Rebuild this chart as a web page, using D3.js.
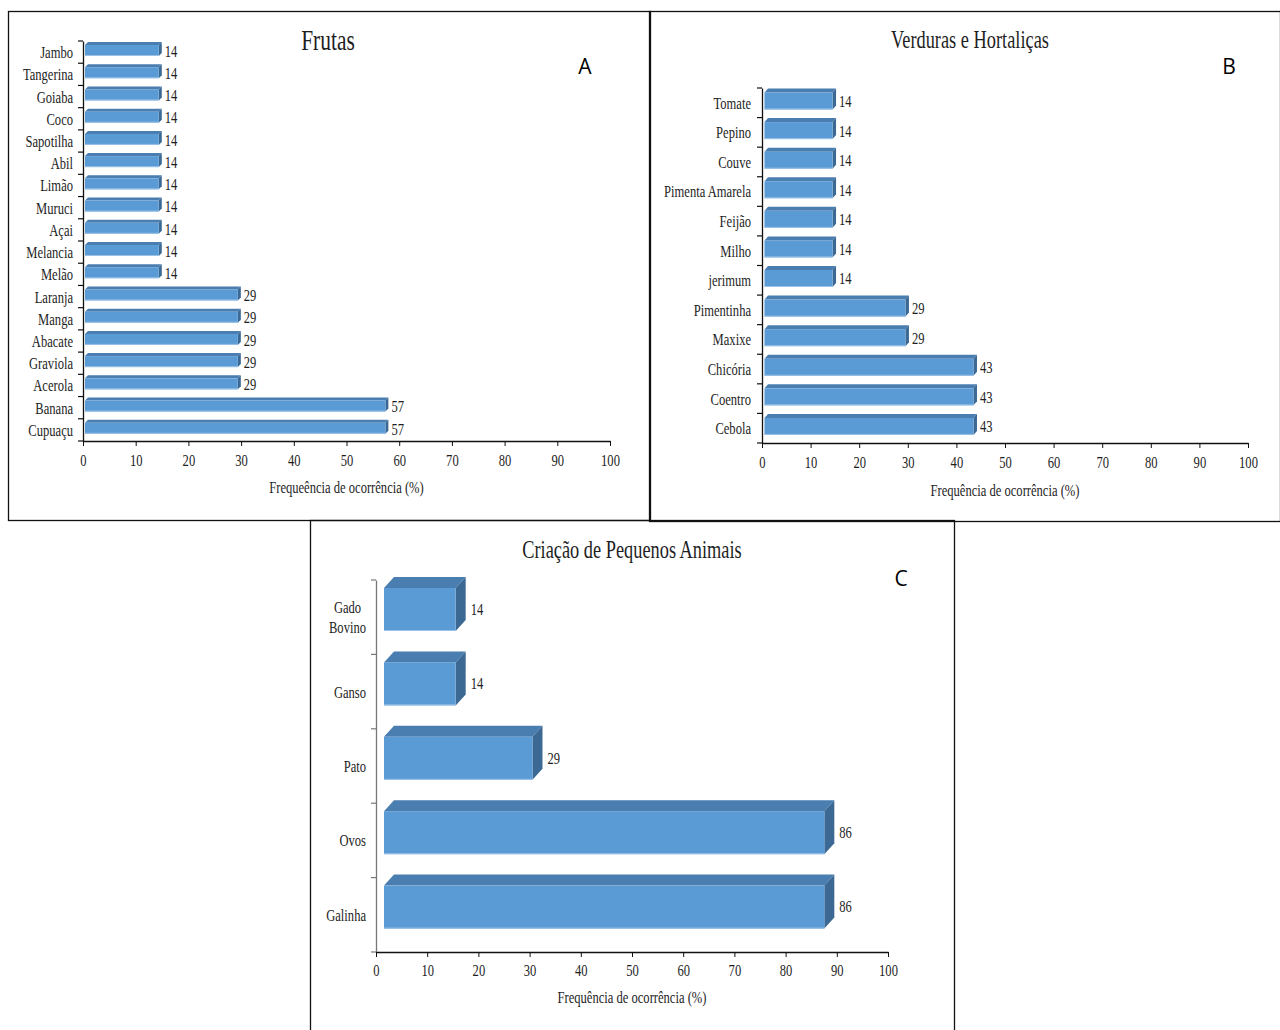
<!DOCTYPE html>
<html>
<head>
<meta charset="utf-8">
<script src="https://cdn.jsdelivr.net/npm/d3@7"></script>
<style>
  html, body { margin: 0; padding: 0; background: #fff; }
  svg { display: block; }
</style>
</head>
<body>
<script>
// ---- data ----
const frutasCategories = ["Jambo", "Tangerina", "Goiaba", "Coco", "Sapotilha", "Abil", "Limão", "Muruci", "Açai", "Melancia", "Melão", "Laranja", "Manga", "Abacate", "Graviola", "Acerola", "Banana", "Cupuaçu"];
const frutasValues = [14, 14, 14, 14, 14, 14, 14, 14, 14, 14, 14, 29, 29, 29, 29, 29, 57, 57];

const verdurasCategories = ["Tomate", "Pepino", "Couve", "Pimenta Amarela", "Feijão", "Milho", "jerimum", "Pimentinha", "Maxixe", "Chicória", "Coentro", "Cebola"];
const verdurasValues = [14, 14, 14, 14, 14, 14, 14, 29, 29, 43, 43, 43];

const animaisCategories = ["Gado Bovino", "Ganso", "Pato", "Ovos", "Galinha"];
const animaisValues = [14, 14, 29, 86, 86];

const xTickValues = [0, 10, 20, 30, 40, 50, 60, 70, 80, 90, 100];
const panelTitles = ["Frutas", "Verduras e Hortaliças", "Criação de Pequenos Animais"];
const panelLetters = ["A", "B", "C"];
const axisTitles = ["Frequeência de ocorrência (%)", "Frequência de ocorrência (%)", "Frequência de ocorrência (%)"];

// ---- styling ----
const SERIF = "'Liberation Serif', 'Times New Roman', serif";
const SANS = "'Open Sans', 'Liberation Sans', sans-serif";
const SX = 0.74;            // horizontal squeeze of the narrow serif lettering
const TEXT = "#1e1e1e";
const FRONT = "#5b9bd5", TOP = "#4a7db0", SIDE = "#3b6994";

const svg = d3.select("body").append("svg")
  .attr("width", 1280).attr("height", 1030);

svg.append("rect").attr("width", 1280).attr("height", 1030).attr("fill", "#fff");

function squeezedText(g, x, y, str, size, anchor) {
  return g.append("text")
    .attr("transform", `translate(${x},${y}) scale(${SX},1)`)
    .attr("text-anchor", anchor)
    .attr("font-family", SERIF)
    .attr("font-size", size)
    .attr("fill", TEXT)
    .text(str);
}

function drawPanel(p, cats, vals, title, letter, axisTitle) {
  const g = svg.append("g");

  // frame
  g.append("rect")
    .attr("x", p.box[0] + 0.5).attr("y", p.box[1] + 0.5)
    .attr("width", p.box[2]).attr("height", p.box[3])
    .attr("fill", "none").attr("stroke", "#111").attr("stroke-width", 1.3);

  const x = d3.scaleLinear().domain([0, 100]).range([p.x0, p.x1]);
  const y = d3.scaleBand().domain(cats).range([p.yTop, p.yBot]).padding(0);
  const bw = y.bandwidth();

  // bars (front, top and side faces)
  const data = cats.map((c, i) => ({ c, v: vals[i] }));
  const bars = g.append("g").selectAll("g").data(data).join("g");
  bars.each(function (d) {
    const b = d3.select(this);
    const xl = x(0) + p.fx, xr = x(d.v) + p.fx;
    const yt = y(d.c) + p.py, yb = yt + p.fh;
    b.append("path")
      .attr("d", `M${xl},${yt}L${xl + p.dx},${yt - p.dy}L${xr + p.dx},${yt - p.dy}L${xr},${yt}Z`)
      .attr("fill", TOP);
    b.append("path")
      .attr("d", `M${xr},${yt}L${xr + p.dx},${yt - p.dy}L${xr + p.dx},${yb - p.dy}L${xr},${yb}Z`)
      .attr("fill", SIDE);
    b.append("rect")
      .attr("x", xl).attr("y", yt).attr("width", xr - xl).attr("height", p.fh)
      .attr("fill", FRONT);
    b.append("line")
      .attr("x1", xl).attr("x2", xr).attr("y1", yb - 0.5).attr("y2", yb - 0.5)
      .attr("stroke", "#9cc2e8").attr("stroke-width", 1);
    squeezedText(b, xr + p.dx + p.valGap, y(d.c) + bw / 2 + p.valDy, d.v, p.fontSize, "start")
      .attr("dominant-baseline", "central");
  });

  // y axis: line, boundary ticks and category labels
  const yAxis = g.append("g").attr("transform", `translate(${p.x0},0)`)
    .call(d3.axisLeft(y).tickSize(0).tickPadding(p.labelGap));
  yAxis.select(".domain").attr("stroke", p.yAxisColor).attr("stroke-width", 1.3);
  yAxis.selectAll(".tick text")
    .attr("font-family", SERIF).attr("font-size", p.fontSize).attr("fill", TEXT)
    .attr("transform", `translate(${-p.labelGap},0) scale(${SX},1)`)
    .attr("x", 0).attr("dy", "0.35em");
  const bounds = cats.map(c => y(c)).concat([p.yBot]);
  g.append("g").selectAll("line").data(bounds).join("line")
    .attr("x1", p.x0 - 5).attr("x2", p.x0)
    .attr("y1", d => d).attr("y2", d => d)
    .attr("stroke", p.yAxisColor).attr("stroke-width", 1.2);

  // wrap multi-word labels where requested
  if (p.wrap) {
    yAxis.selectAll(".tick text").each(function (d) {
      const words = String(d).split(" ");
      if (words.length < 2) return;
      const t = d3.select(this).text(null).attr("dy", null);
      const lh = p.fontSize * 1.2;
      words.forEach((w, i) => {
        t.append("tspan").attr("x", 0)
          .attr("y", (i - (words.length - 1) / 2) * lh)
          .attr("dy", "0.35em").text(w);
      });
      const widths = [];
      t.selectAll("tspan").each(function () { widths.push(this.getComputedTextLength()); });
      const wmax = d3.max(widths);
      t.attr("text-anchor", "middle")
        .attr("transform", `translate(${-p.labelGap - wmax * SX / 2},0) scale(${SX},1)`);
    });
  }

  // x axis
  const xAxis = g.append("g").attr("transform", `translate(0,${p.yBot})`)
    .call(d3.axisBottom(x).tickValues(xTickValues).tickSizeInner(5).tickSizeOuter(0).tickPadding(p.tickPad));
  xAxis.select(".domain").attr("stroke", "#111").attr("stroke-width", 1.3);
  xAxis.selectAll(".tick line").attr("stroke", "#111");
  xAxis.selectAll(".tick text")
    .attr("font-family", SERIF).attr("font-size", p.fontSize).attr("fill", TEXT)
    .attr("transform", `scale(${SX},1)`);

  squeezedText(g, (p.x0 + p.x1) / 2, p.yBot + p.axisTitleOff, axisTitle, p.fontSize, "middle")
    .attr("dominant-baseline", "central");

  // titles
  squeezedText(g, p.titleX, p.titleY, title, p.titleSize, "middle");
  g.append("text")
    .attr("x", p.letterX).attr("y", p.letterY)
    .attr("text-anchor", "middle")
    .attr("font-family", SANS).attr("font-size", 21)
    .attr("fill", "#000").text(letter);
}

drawPanel({
  box: [8, 11, 642, 509], x0: 83, x1: 610, yTop: 41, yBot: 441,
  fx: 2, py: 4, fh: 11, dx: 3, dy: 3, valGap: 3, valDy: -1,
  fontSize: 17, labelGap: 10, tickPad: 8, axisTitleOff: 46,
  yAxisColor: "#111",
  titleX: 328, titleY: 50, titleSize: 29, letterX: 585, letterY: 74
}, frutasCategories, frutasValues, panelTitles[0], panelLetters[0], axisTitles[0]);

drawPanel({
  box: [649, 11, 631, 510], x0: 762, x1: 1248, yTop: 88, yBot: 443,
  fx: 2.5, py: 4.5, fh: 17, dx: 3.5, dy: 4, valGap: 3, valDy: -1.5,
  fontSize: 17, labelGap: 11, tickPad: 8, axisTitleOff: 47,
  yAxisColor: "#111",
  titleX: 970, titleY: 48, titleSize: 24.8, letterX: 1229, letterY: 74
}, verdurasCategories, verdurasValues, panelTitles[1], panelLetters[1], axisTitles[1]);

drawPanel({
  box: [310, 520, 644, 515], x0: 376, x1: 888, yTop: 580, yBot: 952,
  fx: 8, py: 8, fh: 43, dx: 10, dy: 11, valGap: 5, valDy: -8,
  fontSize: 17, labelGap: 10, tickPad: 7, axisTitleOff: 45,
  yAxisColor: "#777", wrap: true,
  titleX: 632, titleY: 558, titleSize: 24.8, letterX: 901, letterY: 586
}, animaisCategories, animaisValues, panelTitles[2], panelLetters[2], axisTitles[2]);
</script>
</body>
</html>
